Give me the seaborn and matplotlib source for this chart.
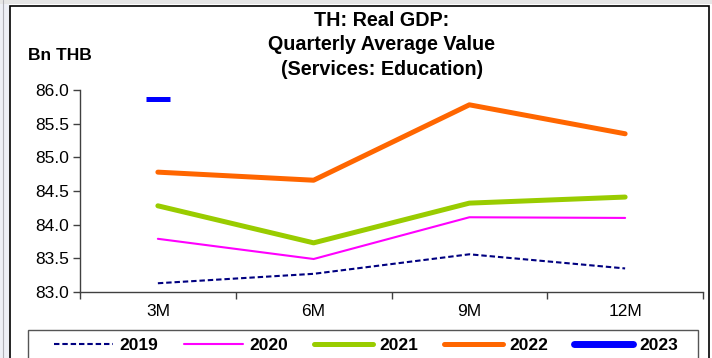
import numpy as np
import pandas as pd
import matplotlib
matplotlib.use("Agg")
import matplotlib.pyplot as plt
import seaborn as sns
from matplotlib.lines import Line2D
from matplotlib.patches import Rectangle
from matplotlib.ticker import FixedLocator, FormatStrFormatter

# --- data ---
months = ["3M", "6M", "9M", "12M"]
y2019 = [83.13, 83.27, 83.56, 83.35]
y2020 = [83.79, 83.49, 84.11, 84.10]
y2021 = [84.28, 83.73, 84.32, 84.41]
y2022 = [84.78, 84.66, 85.78, 85.35]
y2023 = [85.87]
years = ["2019", "2020", "2021", "2022", "2023"]
y_ticks = [83.0, 83.5, 84.0, 84.5, 85.0, 85.5, 86.0]

sns.set_style("white")
plt.rcParams["font.family"] = ["Liberation Sans", "DejaVu Sans"]
plt.rcParams["text.color"] = "black"

W, H = 712, 358
fig = plt.figure(figsize=(W / 100, H / 100), dpi=100)

# --- frame bits from the screenshot ---
def px_rect(x0, y0, x1, y1, **kw):
    fig.patches.append(Rectangle((x0 / W, 1 - y1 / H), (x1 - x0) / W, (y1 - y0) / H,
                                 transform=fig.transFigure, figure=fig, zorder=-5, **kw))

px_rect(0, 0, 9, H, facecolor="#eef0f7", edgecolor="none")
px_rect(0, 0, W, 4, facecolor="#e6e6e6", edgecolor="none")
fig.add_artist(Line2D([3 / W, 3 / W], [0, 1], transform=fig.transFigure, color="#b0b0b8",
                      lw=0.8, zorder=-4))
px_rect(10, 6, 709, H + 5, facecolor="white", edgecolor="black", lw=1.2)

ax = fig.add_axes([80 / W, 1 - 292 / H, 623 / W, 202 / H])
ax.set_facecolor("none")

x = np.arange(len(months))
df = pd.DataFrame({"x": x, "2019": y2019, "2020": y2020, "2021": y2021, "2022": y2022})
dash = (0, (2.6, 1.4))

sns.lineplot(data=df, x="x", y="2019", ax=ax, color="#000080", lw=1.5, linestyle=dash)
sns.lineplot(data=df, x="x", y="2020", ax=ax, color="#ff00ff", lw=1.5)
sns.lineplot(data=df, x="x", y="2021", ax=ax, color="#99cc00", lw=3.6, solid_capstyle="round")
sns.lineplot(data=df, x="x", y="2022", ax=ax, color="#ff6600", lw=3.6, solid_capstyle="round")
sns.lineplot(x=x[:len(y2023)], y=y2023, ax=ax, color="#0000ff", marker="_",
             markersize=17.5, markeredgewidth=3.6, markeredgecolor="#0000ff", lw=0)

ax.set_xlim(-0.5, len(months) - 0.5)
ax.set_ylim(83.0, 86.0)
ax.set_xlabel("")
ax.set_ylabel("")

ax.xaxis.set_major_locator(FixedLocator(x))
ax.set_xticklabels(months)
ax.xaxis.set_minor_locator(FixedLocator(np.arange(len(months) + 1) - 0.5))
ax.tick_params(axis="x", which="major", length=0, pad=9, labelsize=12.5, labelcolor="black")
ax.tick_params(axis="x", which="minor", length=5, width=1, direction="out", color="#404040")
ax.set_yticks(y_ticks)
ax.yaxis.set_major_formatter(FormatStrFormatter("%.1f"))
ax.tick_params(axis="y", length=5, width=1, direction="out", color="#404040",
               labelsize=12.5, labelcolor="black", pad=3)
ax.tick_params(bottom=True, left=True, which="both")
ax.tick_params(left=False, which="minor")

for s in ["top", "right"]:
    ax.spines[s].set_visible(False)
for s in ["left", "bottom"]:
    ax.spines[s].set_color("#404040")
    ax.spines[s].set_linewidth(1)

# --- titles ---
fig.text(382 / W, 1 - 45 / H, "TH: Real GDP:\nQuarterly Average Value\n(Services: Education)",
         ha="center", va="center", fontsize=14.2, fontweight="bold", linespacing=1.38)
fig.text(28 / W, 1 - 56 / H, "Bn THB", ha="left", va="center", fontsize=12.5, fontweight="bold")

# --- legend ---
px_rect(28, 330, 698, H + 5, facecolor="white", edgecolor="#555555", lw=1)
handles = [
    Line2D([], [], color="#000080", lw=1.5, linestyle=dash),
    Line2D([], [], color="#ff00ff", lw=1.5),
    Line2D([], [], color="#99cc00", lw=3.6, solid_capstyle="round"),
    Line2D([], [], color="#ff6600", lw=3.6, solid_capstyle="round"),
    Line2D([], [], color="#0000ff", lw=5, solid_capstyle="round"),
]
fig.legend(handles, years, loc="center left", bbox_to_anchor=(54 / W, 1 - 345 / H),
           ncol=5, frameon=False, prop={"weight": "bold", "size": 12.5},
           handlelength=3.4, handletextpad=0.35, columnspacing=1.5, borderaxespad=0,
           borderpad=0)

fig.savefig("out.png", dpi=100)
